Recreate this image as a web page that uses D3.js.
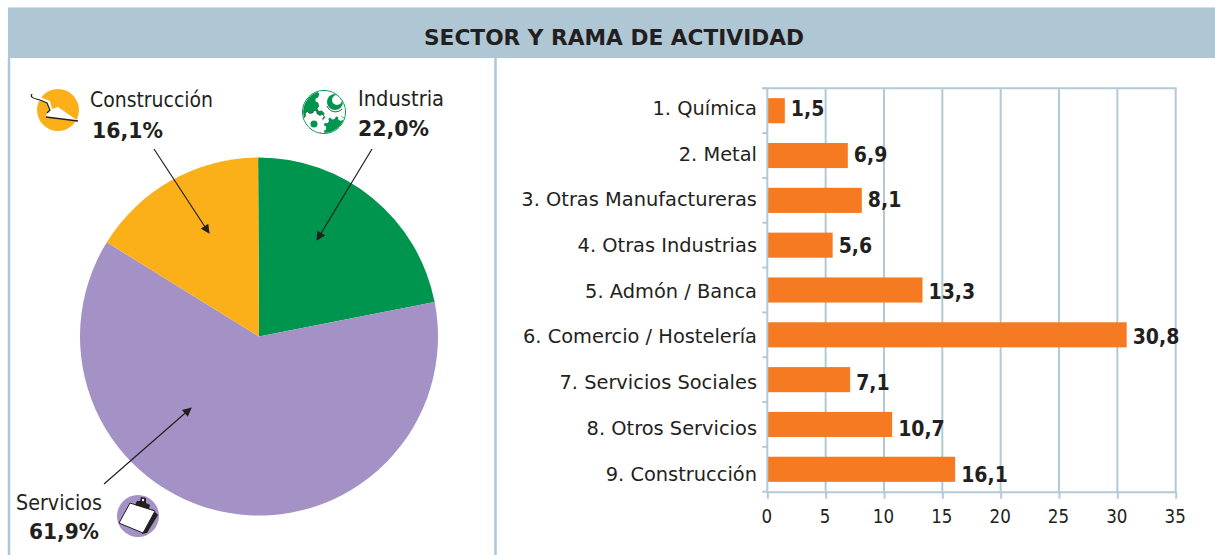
<!DOCTYPE html>
<html>
<head>
<meta charset="utf-8">
<script src="https://cdnjs.cloudflare.com/ajax/libs/d3/7.8.5/d3.min.js"></script>
<style>
  html, body { margin: 0; padding: 0; background: #fff; }
  text { font-family: "DejaVu Sans", Verdana, sans-serif; fill: #231f20; }
</style>
</head>
<body>
<svg id="chart" width="1215" height="555" style="display:block"></svg>
<script>
const sectors = ['Industria', 'Servicios', 'Construcción'];
const sectorValues = [22.0, 61.9, 16.1];
const sectorColors = ['#00954f', '#a491c6', '#fbb01a'];

const ramas = ['1. Química', '2. Metal', '3. Otras Manufactureras', '4. Otras Industrias', '5. Admón / Banca',
  '6. Comercio / Hostelería', '7. Servicios Sociales', '8. Otros Servicios', '9. Construcción'];
const ramaValues = [1.5, 6.9, 8.1, 5.6, 13.3, 30.8, 7.1, 10.7, 16.1];
const xTicks = [0, 5, 10, 15, 20, 25, 30, 35];

const frameColor = '#afc7d4';
const gridColor = '#b2cad8';
const ink = '#231f20';
const fmt = v => v.toFixed(1).replace('.', ',');

// estrecha un texto de DejaVu para acercarlo a la fuente original
const squeeze = k => function () {
  d3.select(this).attr('textLength', this.getComputedTextLength() * k).attr('lengthAdjust', 'spacingAndGlyphs');
};

const svg = d3.select('#chart');
const defs = svg.append('defs');

// marco y cabecera
svg.append('rect').attr('x', 8).attr('y', 7).attr('width', 1207).attr('height', 1).attr('fill', '#d3e0e7');
svg.append('rect').attr('x', 8).attr('y', 8).attr('width', 1207).attr('height', 50).attr('fill', frameColor);
[9, 495.5].forEach(px => {
  svg.append('line').attr('x1', px).attr('x2', px).attr('y1', 58).attr('y2', 555)
    .attr('stroke', frameColor).attr('stroke-width', 2.5);
});
svg.append('text').attr('x', 614).attr('y', 45).attr('text-anchor', 'middle')
  .attr('font-size', 21).attr('font-weight', 'bold').attr('textLength', 380).attr('lengthAdjust', 'spacingAndGlyphs')
  .text('SECTOR Y RAMA DE ACTIVIDAD');

// tarta
const pieG = svg.append('g').attr('transform', 'translate(259,336.5)');
const pie = d3.pie().sort(null).startAngle(-0.005).endAngle(2 * Math.PI - 0.005)(sectorValues);
const arc = d3.arc().innerRadius(0).outerRadius(179);
pieG.selectAll('path').data(pie).enter().append('path')
  .attr('d', arc).attr('fill', (d, i) => sectorColors[i]);

// flechas
defs.append('marker').attr('id', 'head').attr('viewBox', '0 0 10 10')
  .attr('refX', 9).attr('refY', 5).attr('markerWidth', 11).attr('markerHeight', 9)
  .attr('markerUnits', 'userSpaceOnUse').attr('orient', 'auto')
  .append('path').attr('d', 'M0,0L10,5L0,10Z').attr('fill', ink);
[[154, 149, 209, 233], [372, 149, 317, 240], [104, 484, 191, 408]].forEach(a => {
  svg.append('line').attr('x1', a[0]).attr('y1', a[1]).attr('x2', a[2]).attr('y2', a[3])
    .attr('stroke', ink).attr('stroke-width', 1.2).attr('marker-end', 'url(#head)');
});

// etiquetas de la tarta
const pieLabels = [
  { i: 2, x: 90, y: 107, w: 123, px: 92, py: 138, pw: 71 },
  { i: 0, x: 358, y: 106, w: 86, px: 358, py: 136, pw: 71 },
  { i: 1, x: 16, y: 510, w: 86, px: 29, py: 539, pw: 70 }
];
pieLabels.forEach(l => {
  svg.append('text').attr('x', l.x).attr('y', l.y).attr('font-size', 21)
    .attr('textLength', l.w).attr('lengthAdjust', 'spacingAndGlyphs').text(sectors[l.i]);
  svg.append('text').attr('x', l.px).attr('y', l.py).attr('font-size', 22).attr('font-weight', 'bold')
    .attr('textLength', l.pw).attr('lengthAdjust', 'spacingAndGlyphs').text(fmt(sectorValues[l.i]) + '%');
});

// iconos
const iconCon = svg.append('g').attr('transform', 'translate(58,110)');
iconCon.append('circle').attr('r', 21).attr('fill', sectorColors[2]);
iconCon.append('path').attr('d', 'M-26,-16L-27,-13L-17,-9L-11,-7L-8,0L-11,3L-12,7L20,11L0,-3L-6,-1L-8,-9L-18,-13Z').attr('fill', '#fff');
iconCon.append('path').attr('d', 'M-26,-16C-28,-13 -26,-12 -18,-10L-11,-7L-8,0L-11,3')
  .attr('fill', 'none').attr('stroke', ink).attr('stroke-width', 1.2);
iconCon.append('path').attr('d', 'M-12,7L20,11').attr('fill', 'none').attr('stroke', ink).attr('stroke-width', 1.4);

// rueda dentada para el icono de industria
const gear = (cx, cy, r, teeth) => {
  const pts = [];
  const da = 2 * Math.PI / teeth;
  for (let i = 0; i < teeth; i++) {
    const a = i * da;
    [[a - da * 0.28, r], [a - da * 0.14, r + 2.5], [a + da * 0.14, r + 2.5], [a + da * 0.28, r]].forEach(p => {
      pts.push([cx + p[1] * Math.cos(p[0]), cy + p[1] * Math.sin(p[0])]);
    });
  }
  return d3.line()(pts) + 'Z';
};
defs.append('clipPath').attr('id', 'gearClip').append('circle').attr('r', 21);
const iconInd = svg.append('g').attr('transform', 'translate(324,112)');
iconInd.append('circle').attr('r', 21.5).attr('fill', '#fff').attr('stroke', sectorColors[0]).attr('stroke-width', 1);
const gearG = iconInd.append('g').attr('clip-path', 'url(#gearClip)');
gearG.append('circle').attr('r', 21).attr('fill', sectorColors[0]);
gearG.append('path').attr('d', gear(11, -12, 17, 12)).attr('fill', '#fff');
gearG.append('path').attr('d', gear(-11, 12, 11, 9)).attr('fill', '#fff').attr('stroke', ink).attr('stroke-width', 0.5);
gearG.append('circle').attr('cx', 10).attr('cy', 15).attr('r', 13).attr('fill', '#fff');
gearG.append('path').attr('d', gear(11, 16, 9, 9)).attr('fill', sectorColors[0]);
gearG.append('circle').attr('cx', -10).attr('cy', 12).attr('r', 3.5).attr('fill', sectorColors[0]);
gearG.append('circle').attr('cx', 11).attr('cy', -10).attr('r', 8).attr('fill', sectorColors[0]);
gearG.append('circle').attr('cx', 13).attr('cy', -12).attr('r', 5).attr('fill', '#fff');
gearG.append('path').attr('d', 'M3,-6A9,9 0 0 0 18,-3').attr('fill', 'none').attr('stroke', ink).attr('stroke-width', 0.8);

const iconSer = svg.append('g').attr('transform', 'translate(138,516)');
iconSer.append('circle').attr('r', 21).attr('fill', sectorColors[1]);
iconSer.append('path').attr('d', 'M14,-7L20,-1L9,17L4,18Z').attr('fill', ink);
iconSer.append('path').attr('d', 'M-8,-13L17,-5L5,17L-19,7Z').attr('fill', '#fff').attr('stroke', ink).attr('stroke-width', 1);
iconSer.append('path').attr('d', 'M-3,-11L-1,-15L2,-15L3,-19L8,-18L8,-13L12,-11L11,-7Z').attr('fill', ink);
iconSer.append('circle').attr('cx', 5).attr('cy', -16).attr('r', 1.2).attr('fill', '#fff');

// barras
const margin = { left: 767.3, right: 1175.7, top: 88.3, bottom: 491.7 };
const x = d3.scaleLinear().domain([0, 35]).range([margin.left, margin.right]);
const y = d3.scaleBand().domain(ramas).range([margin.top, margin.bottom]).paddingInner(0.44).paddingOuter(0.22);
// los textos del original van con un paso algo mayor que las barras
const yLabel = d3.scalePoint().domain(ramas).range([108, 473.5]);

const gridG = svg.append('g');
gridG.selectAll('line').data(xTicks.slice(1)).enter().append('line')
  .attr('x1', d => x(d)).attr('x2', d => x(d))
  .attr('y1', margin.top).attr('y2', margin.bottom)
  .attr('stroke', gridColor).attr('stroke-width', 2);

svg.append('g').selectAll('rect').data(ramaValues).enter().append('rect')
  .attr('x', x(0)).attr('y', (d, i) => y(ramas[i]))
  .attr('width', d => x(d) - x(0)).attr('height', y.bandwidth())
  .attr('fill', '#f57a22');

const xAxis = d3.axisBottom(x).tickValues(xTicks).tickSize(7).tickPadding(11).tickSizeOuter(0);
const xG = svg.append('g').attr('transform', `translate(0,${margin.bottom})`).call(xAxis);
xG.selectAll('line,path').attr('stroke', gridColor).attr('stroke-width', 2);
xG.selectAll('text').attr('font-size', 19).attr('dx', -1).attr('font-family', '"DejaVu Sans", sans-serif').each(squeeze(0.88));

// eje de categorias con marcas entre bandas
const boundary = d3.range(ramas.length + 1);
const catAxis = svg.append('g');
catAxis.append('line').attr('x1', x(0)).attr('x2', x(0)).attr('y1', margin.top).attr('y2', margin.bottom)
  .attr('stroke', gridColor).attr('stroke-width', 2);
catAxis.selectAll('.mk').data(boundary).enter().append('line').attr('class', 'mk')
  .attr('x1', x(0) - 5).attr('x2', x(0))
  .attr('y1', d => margin.top + (margin.bottom - margin.top) * d / ramas.length)
  .attr('y2', d => margin.top + (margin.bottom - margin.top) * d / ramas.length)
  .attr('stroke', gridColor).attr('stroke-width', 2);
svg.append('line').attr('x1', x(0) - 5).attr('x2', x(35) + 1).attr('y1', margin.top).attr('y2', margin.top)
  .attr('stroke', gridColor).attr('stroke-width', 2);

// textos de categoria
svg.append('g').selectAll('text').data(ramas).enter().append('text')
  .attr('x', 757).attr('y', d => yLabel(d) + 7)
  .attr('text-anchor', 'end').attr('font-size', 20).text(d => d).each(squeeze(0.97));

// valores
svg.append('g').selectAll('text').data(ramaValues).enter().append('text')
  .attr('x', d => x(d) + 6).attr('y', (d, i) => yLabel(ramas[i]) + 8)
  .attr('font-size', 21).attr('font-weight', 'bold').text(d => fmt(d)).each(squeeze(0.9));
</script>
</body>
</html>
